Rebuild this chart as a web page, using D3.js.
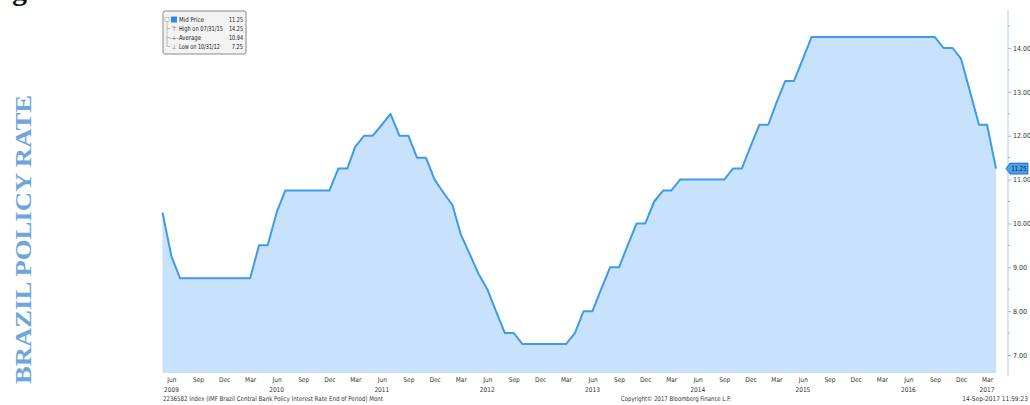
<!DOCTYPE html>
<html>
<head>
<meta charset="utf-8">
<script src="https://cdn.jsdelivr.net/npm/d3@7"></script>
<style>
  body { margin: 0; background: #fff; }
  svg { display: block; font-family: "DejaVu Sans", sans-serif; }
</style>
</head>
<body>
<script>
// monthly end-of-period values, May 2009 .. Apr 2017
const startMonth = new Date(2009, 4, 1);
const rate2009 = [10.25, 9.25, 8.75, 8.75, 8.75, 8.75, 8.75, 8.75]; // May-Dec
const rate2010 = [8.75, 8.75, 8.75, 9.5, 9.5, 10.25, 10.75, 10.75, 10.75, 10.75, 10.75, 10.75];
const rate2011 = [11.25, 11.25, 11.75, 12, 12, 12.25, 12.5, 12, 12, 11.5, 11.5, 11];
const rate2012 = [10.7, 10.42, 9.75, 9.3, 8.86, 8.5, 8, 7.5, 7.5, 7.25, 7.25, 7.25];
const rate2013 = [7.25, 7.25, 7.25, 7.5, 8, 8, 8.5, 9, 9, 9.5, 10, 10];
const rate2014 = [10.5, 10.75, 10.75, 11, 11, 11, 11, 11, 11, 11.25, 11.25, 11.75];
const rate2015 = [12.25, 12.25, 12.75, 13.25, 13.25, 13.75, 14.25, 14.25, 14.25, 14.25, 14.25, 14.25];
const rate2016 = [14.25, 14.25, 14.25, 14.25, 14.25, 14.25, 14.25, 14.25, 14.25, 14, 14, 13.75];
const rate2017 = [13, 12.25, 12.25, 11.25]; // Jan-Apr

const yTicks = [7, 8, 9, 10, 11, 12, 13, 14];
const yMinor = [7.5, 8.5, 9.5, 10.5, 11.5, 12.5, 13.5, 14.5];
const legendRows = [
  {label: 'Mid Price', value: '11.25', w: 25},
  {label: 'High on 07/31/15', value: '14.25', w: 44},
  {label: 'Average', value: '10.94', w: 22},
  {label: 'Low on 10/31/12', value: '7.25', w: 41}
];
const lastValue = 11.25;

const values = [].concat(rate2009, rate2010, rate2011, rate2012, rate2013, rate2014, rate2015, rate2016, rate2017);
const data = values.map((v, i) => ({date: d3.timeMonth.offset(startMonth, i), value: v}));

const width = 1030, height = 405;
const blue = '#3d9be9';
const smallFont = '"DejaVu Sans Condensed", "DejaVu Sans", sans-serif';

const x = d3.scaleTime()
  .domain([data[0].date, data[data.length - 1].date])
  .range([162.5, 996]);
const y = d3.scaleLinear()
  .domain([7, 14])
  .range([355, 48]);
const bottom = 373;

const svg = d3.select('body').append('svg').attr('width', width).attr('height', height);

// cut-off title glyph at the very top
svg.append('text').attr('x', 12).attr('y', 0)
  .style('font-family', '"Liberation Serif", serif').style('font-weight', 'bold')
  .style('font-size', '30px').attr('fill', '#111').text('g');

// side title
svg.append('text')
  .attr('transform', 'translate(31, 384) rotate(-90)')
  .attr('textLength', 289).attr('lengthAdjust', 'spacingAndGlyphs')
  .style('font-family', '"Liberation Serif", serif').style('font-weight', 'bold')
  .style('font-size', '23px').attr('fill', '#6ea6dc')
  .text('BRAZIL POLICY RATE');

// area + line
svg.append('path').datum(data)
  .attr('fill', '#c9e2fb')
  .attr('d', d3.area().x(d => x(d.date)).y0(bottom).y1(d => y(d.value)));
svg.append('path').datum(data)
  .attr('fill', 'none').attr('stroke', blue).attr('stroke-width', 2)
  .attr('stroke-linejoin', 'round')
  .attr('d', d3.line().x(d => x(d.date)).y(d => y(d.value)));

// right axis
const axisX = 1008;
const yAxis = svg.append('g').attr('transform', `translate(${axisX},0)`)
  .call(d3.axisRight(y).tickValues(yTicks).tickSize(3).tickPadding(2).tickFormat(d3.format('.2f')))
  .call(g => g.select('.domain').remove());
yAxis.selectAll('.tick line').attr('stroke', '#7fb6ea');
yAxis.selectAll('.tick text').attr('fill', '#333').style('font-size', '7px').style('font-family', smallFont);
svg.append('line').attr('x1', axisX).attr('x2', axisX).attr('y1', 10).attr('y2', 376)
  .attr('stroke', '#a9cff2');
svg.append('g').selectAll('line').data(yMinor).enter().append('line')
  .attr('x1', axisX).attr('x2', axisX + 2)
  .attr('y1', d => y(d)).attr('y2', d => y(d)).attr('stroke', '#7fb6ea');

// last value tag
const ty = y(lastValue);
svg.append('path')
  .attr('d', `M${axisX - 2},${ty} L${axisX + 2},${ty - 5.5} L${axisX + 20},${ty - 5.5} L${axisX + 20},${ty + 5.5} L${axisX + 2},${ty + 5.5} Z`)
  .attr('fill', '#4a9eea').attr('stroke', '#1d62ad').attr('stroke-width', 0.8);
svg.append('text').attr('x', axisX + 3.5).attr('y', ty + 2.5)
  .attr('textLength', 15).attr('lengthAdjust', 'spacingAndGlyphs')
  .style('font-size', '7px').style('font-family', smallFont)
  .attr('fill', '#06203f').text(d3.format('.2f')(lastValue));

// bottom axis: quarter months and years
const quarterTicks = data.filter(d => [2, 5, 8, 11].includes(d.date.getMonth())).map(d => d.date);
const xAxis = svg.append('g').attr('transform', `translate(0,${bottom})`)
  .call(d3.axisBottom(x).tickValues(quarterTicks).tickSize(0).tickPadding(4).tickFormat(d3.timeFormat('%b')))
  .call(g => g.select('.domain').remove());
xAxis.selectAll('.tick text').attr('fill', '#333').style('font-size', '6.5px').style('font-family', smallFont);

const yearTicks = quarterTicks.filter(d => d.getMonth() === 5 || +d === +data[data.length - 2].date);
svg.append('g').selectAll('text').data(yearTicks).enter().append('text')
  .attr('x', d => x(d)).attr('y', bottom + 19).attr('text-anchor', 'middle')
  .attr('fill', '#333').style('font-size', '6.5px').style('font-family', smallFont)
  .text(d => d.getFullYear());

// footer
const footer = svg.append('g').attr('fill', '#333').style('font-size', '6.5px').style('font-family', smallFont);
footer.append('text').attr('x', 163).attr('y', 401)
  .attr('textLength', 220).attr('lengthAdjust', 'spacingAndGlyphs')
  .text('2236582 Index (IMF Brazil Central Bank Policy Interest Rate End of Period)  Mont');
footer.append('text').attr('x', 621).attr('y', 401)
  .attr('textLength', 110).attr('lengthAdjust', 'spacingAndGlyphs')
  .text('Copyright\u00a9 2017 Bloomberg Finance L.P.');
footer.append('text').attr('x', 1028).attr('y', 401).attr('text-anchor', 'end')
  .text('14-Sep-2017 11:59:23');

// legend box
const lg = svg.append('g').attr('transform', 'translate(163,11)');
lg.append('rect').attr('width', 83).attr('height', 43).attr('rx', 2)
  .attr('fill', '#f3f3f3').attr('stroke', '#8a8a8a');
const rowY = i => 8.5 + i * 9;
lg.append('path')
  .attr('d', `M4,${rowY(0) + 2} V${rowY(3)} H7 M4,${rowY(1)} H7 M4,${rowY(2)} H7`)
  .attr('stroke', '#999').attr('fill', 'none').attr('stroke-width', 0.6);
lg.append('rect').attr('x', 2).attr('y', rowY(0) - 2).attr('width', 4).attr('height', 4)
  .attr('fill', '#fff').attr('stroke', '#999').attr('stroke-width', 0.5);
lg.append('rect').attr('x', 8).attr('y', rowY(0) - 3).attr('width', 6).attr('height', 6).attr('fill', '#2f8be6');
const icons = ['', '\u22a4', '-+-', '\u22a5'];
lg.selectAll('.icon').data(icons).enter().append('text')
  .attr('x', 11).attr('y', (d, i) => rowY(i) + 2.5).attr('text-anchor', 'middle')
  .attr('fill', '#555').style('font-size', '6px').text(d => d);
lg.selectAll('.lbl').data(legendRows).enter().append('text')
  .attr('x', 16).attr('y', (d, i) => rowY(i) + 2.5)
  .attr('textLength', d => d.w).attr('lengthAdjust', 'spacingAndGlyphs')
  .attr('fill', '#222').style('font-size', '6.8px').style('font-family', smallFont)
  .text(d => d.label);
lg.selectAll('.val').data(legendRows).enter().append('text')
  .attr('x', 80).attr('y', (d, i) => rowY(i) + 2.5).attr('text-anchor', 'end')
  .attr('textLength', d => d.value.length * 2.8).attr('lengthAdjust', 'spacingAndGlyphs')
  .attr('fill', '#222').style('font-size', '6.8px').style('font-family', smallFont)
  .text(d => d.value);
</script>
</body>
</html>
